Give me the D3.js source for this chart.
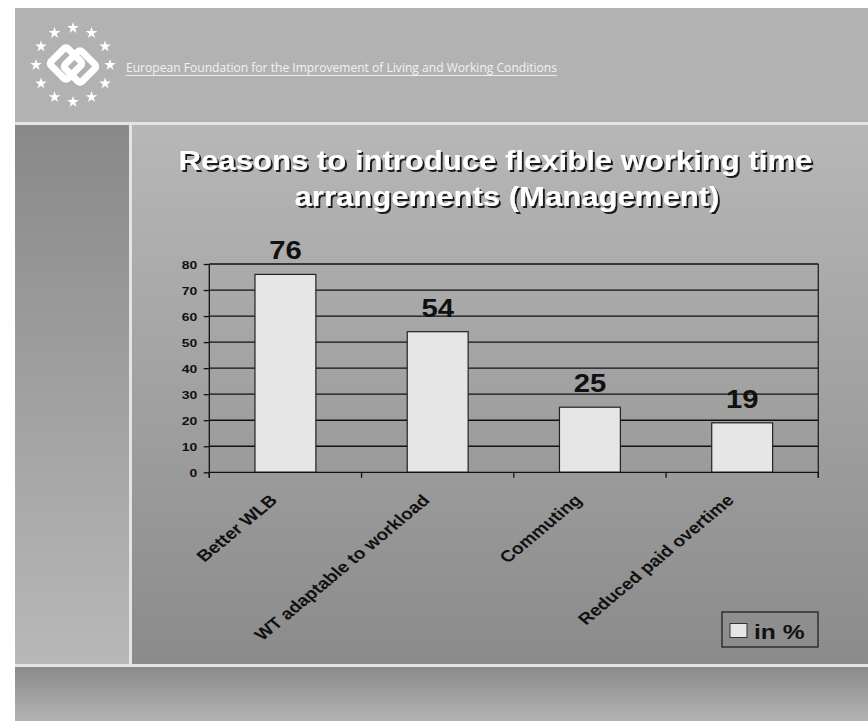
<!DOCTYPE html>
<html>
<head>
<meta charset="utf-8">
<script src="https://cdn.jsdelivr.net/npm/d3@7/dist/d3.min.js"></script>
<style>
html,body{margin:0;padding:0;background:#ffffff;}
svg{display:block;}
text{font-family:"Liberation Sans",Arial,Helvetica,sans-serif;}
</style>
</head>
<body>
<svg id="chart" width="868" height="721"></svg>
<script>
// ---- data ----
const categories = ["Better WLB", "WT adaptable to workload", "Commuting", "Reduced paid overtime"];
const values = [76, 54, 25, 19];
const yTicks = [0, 10, 20, 30, 40, 50, 60, 70, 80];
const seriesName = "in %";
const titleLines = ["Reasons to introduce flexible working time", "arrangements (Management)"];
const orgName = "European Foundation for the Improvement of Living and Working Conditions";

const SX = 1.2; // horizontal stretch of the slide
const svg = d3.select("#chart");
const defs = svg.append("defs");

function grad(id, c0, c1) {
  const g = defs.append("linearGradient").attr("id", id)
    .attr("x1", 0).attr("y1", 0).attr("x2", 0).attr("y2", 1);
  g.append("stop").attr("offset", "0%").attr("stop-color", c0);
  g.append("stop").attr("offset", "100%").attr("stop-color", c1);
}
grad("gMain", "#b7b7b7", "#8b8b8b");
grad("gLeft", "#898989", "#b8b8b8");
grad("gBottom", "#8a8a8a", "#b3b3b3");

const shadow = defs.append("filter").attr("id", "tshadow")
  .attr("x", "-5%").attr("y", "-20%").attr("width", "110%").attr("height", "150%");
shadow.append("feOffset").attr("in", "SourceAlpha").attr("dx", 2).attr("dy", 2).attr("result", "off");
shadow.append("feComponentTransfer").attr("in", "off").attr("result", "dark")
  .append("feFuncA").attr("type", "linear").attr("slope", 0.85);
const merge = shadow.append("feMerge");
merge.append("feMergeNode").attr("in", "dark");
merge.append("feMergeNode").attr("in", "SourceGraphic");

// ---- slide background ----
svg.append("rect").attr("x", 15).attr("y", 8).attr("width", 853).attr("height", 114).attr("fill", "#b2b2b2");
svg.append("rect").attr("x", 15).attr("y", 122).attr("width", 853).attr("height", 3).attr("fill", "#e4e4e4");
svg.append("rect").attr("x", 15).attr("y", 125).attr("width", 114).attr("height", 539).attr("fill", "url(#gLeft)");
svg.append("rect").attr("x", 129).attr("y", 125).attr("width", 3).attr("height", 539).attr("fill", "#e4e4e4");
svg.append("rect").attr("x", 132).attr("y", 125).attr("width", 736).attr("height", 539).attr("fill", "url(#gMain)");
svg.append("rect").attr("x", 15).attr("y", 664).attr("width", 853).attr("height", 3).attr("fill", "#e4e4e4");
svg.append("rect").attr("x", 15).attr("y", 667).attr("width", 853).attr("height", 54).attr("fill", "url(#gBottom)");

// ---- logo ----
const logo = svg.append("g").attr("transform", "translate(73,65)");
const starPath = d3.symbol().type(d3.symbolStar).size(42);
d3.range(12).forEach(i => {
  const a = i * Math.PI / 6;
  logo.append("path").attr("d", starPath())
    .attr("transform", `translate(${37 * Math.sin(a)},${-37 * Math.cos(a)})`)
    .attr("fill", "#ffffff");
});
[-7, 7].forEach((dx, k) => {
  logo.append("rect").attr("x", -12).attr("y", -12).attr("width", 24).attr("height", 24)
    .attr("rx", 3)
    .attr("transform", `translate(${dx},${k ? 1.5 : -1.5}) rotate(45)`)
    .attr("fill", "none").attr("stroke", "#ffffff").attr("stroke-width", 7);
});
svg.append("text").attr("x", 126).attr("y", 72)
  .attr("textLength", 431).attr("lengthAdjust", "spacingAndGlyphs")
  .style("font-family", "'Open Sans','Noto Sans',sans-serif")
  .style("font-size", "11.8px").attr("fill", "#f2f2f2").text(orgName);
svg.append("line").attr("x1", 126).attr("x2", 557).attr("y1", 75.5).attr("y2", 75.5)
  .attr("stroke", "#ececec").attr("stroke-width", 1.2);

// ---- title ----
const titlePos = [[495.5, 170], [507, 206]];
titleLines.forEach((t, i) => {
  svg.append("text")
    .attr("transform", `translate(${titlePos[i][0]},${titlePos[i][1]}) scale(1.11,1)`)
    .attr("text-anchor", "middle").attr("filter", "url(#tshadow)")
    .style("font-size", "28px").style("font-weight", "bold").attr("fill", "#ffffff").text(t);
});

// ---- chart ----
const L = 209.3, R = 818.3, T = 264, B = 472.3;
const x = d3.scaleBand().domain(categories).range([L, R]).paddingInner(0.6).paddingOuter(0.3);
const y = d3.scaleLinear().domain([0, 80]).range([B, T]);
const plot = svg.append("g");

// gridlines
plot.selectAll("line.grid").data(yTicks.filter(v => v > 0)).enter().append("line")
  .attr("x1", L).attr("x2", R).attr("y1", d => y(d)).attr("y2", d => y(d))
  .attr("stroke", "#111").attr("stroke-width", 1.3);
// right border
plot.append("line").attr("x1", R).attr("x2", R).attr("y1", y(80)).attr("y2", B + 5.5)
  .attr("stroke", "#222").attr("stroke-width", 1.3);

// bars
plot.selectAll("rect.bar").data(values).enter().append("rect")
  .attr("x", (d, i) => x(categories[i]))
  .attr("y", d => y(d))
  .attr("width", x.bandwidth())
  .attr("height", d => B - y(d))
  .attr("fill", "#e6e6e6").attr("stroke", "#222").attr("stroke-width", 1.2);

// y axis
const yAxis = d3.axisLeft(y).tickValues(yTicks).tickSize(5.6).tickFormat(d3.format("d"));
const yG = svg.append("g").attr("transform", `translate(${L},0)`).call(yAxis);
yG.select(".domain").attr("stroke", "#111").attr("stroke-width", 1.3).attr("d", `M0,${T}V${B + 5.5}`);
yG.selectAll(".tick line").attr("stroke", "#111").attr("stroke-width", 1.3);
yG.selectAll(".tick text")
  .attr("x", 0).attr("dy", null).attr("y", 4.2)
  .attr("transform", `translate(-12,0) scale(${SX},1)`)
  .attr("text-anchor", "end").attr("fill", "#111")
  .style("font-size", "11.6px").style("font-weight", "bold")
  .style("font-family", "'Liberation Sans',Arial,sans-serif");

// x axis line + boundary ticks
const xAxis = d3.axisBottom(x).tickSize(0).tickFormat("");
const xG = svg.append("g").attr("transform", `translate(0,${B})`).call(xAxis);
xG.select(".domain").attr("stroke", "#111").attr("stroke-width", 1.3).attr("d", `M${L},0H${R}`);
const half = x.step() * x.paddingInner() / 2;
const bounds = categories.map(c => x(c) - half).concat([R]);
xG.selectAll("line.bt").data(bounds).enter().append("line")
  .attr("x1", d => d).attr("x2", d => d).attr("y1", 0).attr("y2", 5.5)
  .attr("stroke", "#111").attr("stroke-width", 1.3);

// category labels
svg.selectAll("text.cat").data(categories).enter().append("text")
  .attr("transform", d => `translate(${x(d) + x.bandwidth() / 2 - 7},${B + 29}) scale(${SX},1) rotate(-45)`)
  .attr("text-anchor", "end").attr("fill", "#111")
  .style("font-size", "16px").style("font-weight", "bold").text(d => d);

// value labels
svg.selectAll("text.val").data(values).enter().append("text")
  .attr("transform", (d, i) => `translate(${x(categories[i]) + x.bandwidth() / 2},${y(d) - 15}) scale(1.17,1)`)
  .attr("text-anchor", "middle").attr("fill", "#111")
  .style("font-size", "25px").style("font-weight", "bold").text(d => d);

// legend
const lg = svg.append("g").attr("transform", "translate(722,612)");
lg.append("rect").attr("width", 96).attr("height", 35).attr("fill", "none")
  .attr("stroke", "#222").attr("stroke-width", 1.3);
lg.append("rect").attr("x", 8).attr("y", 11.5).attr("width", 17).attr("height", 14)
  .attr("fill", "#e6e6e6").attr("stroke", "#333").attr("stroke-width", 1);
lg.append("text").attr("transform", `translate(32,26.5) scale(${SX},1)`)
  .attr("fill", "#111").style("font-size", "20.5px").style("font-weight", "bold").text(seriesName);
</script>
</body>
</html>
